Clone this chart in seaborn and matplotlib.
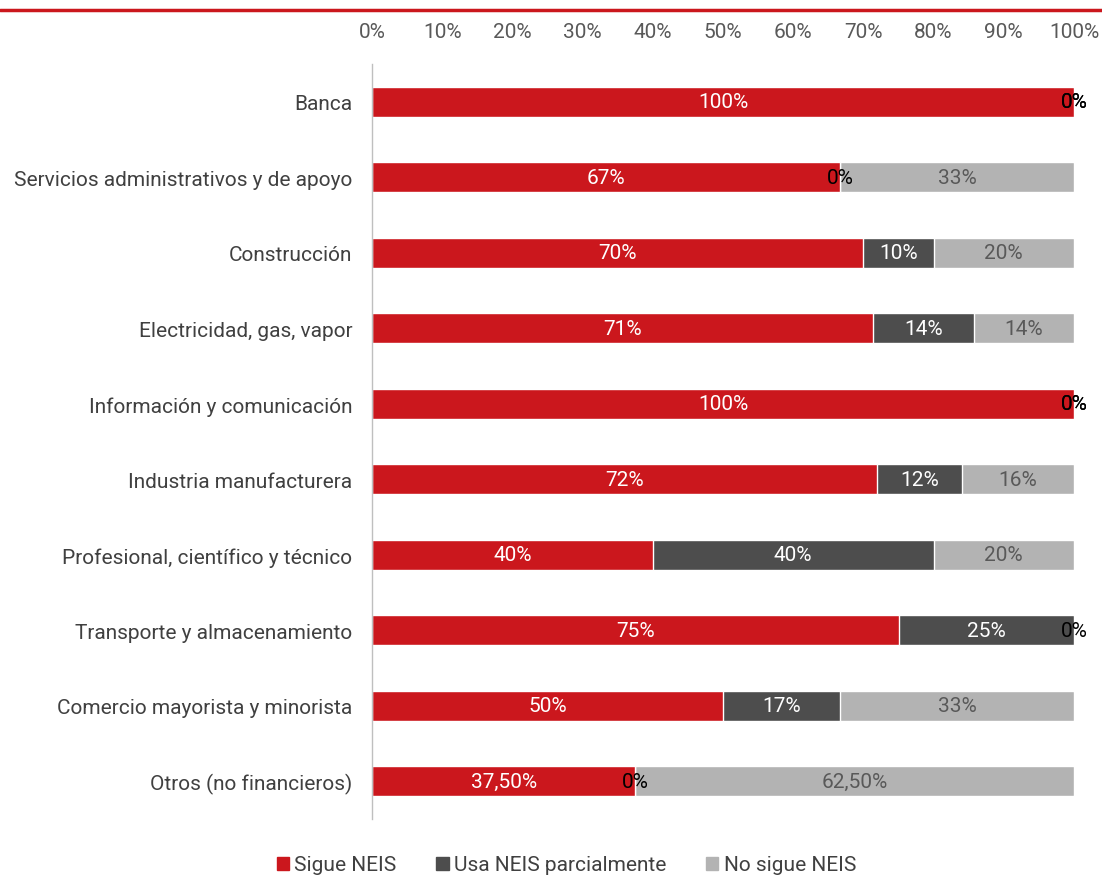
import numpy as np
import pandas as pd
import seaborn as sns
from matplotlib import pyplot as plt
from matplotlib.lines import Line2D
from matplotlib.patches import Patch

sns.set_style("white")
plt.rcParams['font.family'] = ['Roboto', 'DejaVu Sans']

# datos
sectores = ['Banca', 'Servicios administrativos y de apoyo', 'Construcción',
            'Electricidad, gas, vapor', 'Información y comunicación',
            'Industria manufacturera', 'Profesional, científico y técnico',
            'Transporte y almacenamiento', 'Comercio mayorista y minorista',
            'Otros (no financieros)']
sigue = [100, 66.7, 70, 71.4, 100, 72, 40, 75, 50, 37.5]
parcial = [0, 0, 10, 14.3, 0, 12, 40, 25, 16.7, 0]
no_sigue = [0, 33.3, 20, 14.3, 0, 16, 20, 0, 33.3, 62.5]
lbl_sigue = ['100%', '67%', '70%', '71%', '100%', '72%', '40%', '75%', '50%', '37,50%']
lbl_parcial = ['0%', '0%', '10%', '14%', '0%', '12%', '40%', '25%', '17%', '0%']
lbl_no = ['0%', '33%', '20%', '14%', '0%', '16%', '20%', '0%', '33%', '62,50%']

RED = '#CB171D'
DARK = '#4D4D4D'
LIGHT = '#B3B3B3'

df = pd.DataFrame({'sector': sectores, 'sigue': sigue, 'parcial': parcial, 'no': no_sigue})
df['c2'] = df['sigue'] + df['parcial']
df['c3'] = df['c2'] + df['no']

fig = plt.figure(figsize=(11.02, 8.79), dpi=100)
ax = fig.add_axes([0.3376, 0.0671, 0.9746 - 0.3376, 0.926 - 0.0671])

sns.barplot(data=df, x='c3', y='sector', order=sectores, color=LIGHT, width=0.4,
            orient='h', ax=ax, saturation=1)
sns.barplot(data=df, x='c2', y='sector', order=sectores, color=DARK, width=0.4,
            orient='h', ax=ax, saturation=1)
sns.barplot(data=df, x='sigue', y='sector', order=sectores, color=RED, width=0.4,
            orient='h', ax=ax, saturation=1)

fs = 15
for i, row in df.iterrows():
    segs = [(row['sigue'] / 2, row['sigue'], lbl_sigue[i], 'white'),
            (row['sigue'] + row['parcial'] / 2, row['parcial'], lbl_parcial[i], 'white'),
            (row['c2'] + row['no'] / 2, row['no'], lbl_no[i], '#595959')]
    for xc, v, t, c in segs:
        if v == 0:
            c = 'black'
        ax.text(xc, i, t, ha='center', va='center', color=c, fontsize=fs)

ax.set_xlim(0, 100)
ax.set_ylim(9.5, -0.5)
ax.set_xticks(np.arange(0, 101, 10))
ax.set_xticklabels([f'{v}%' for v in range(0, 101, 10)])
ax.xaxis.tick_top()
ax.tick_params(axis='x', length=0, pad=16.5, labelsize=fs, colors='#595959')
ax.tick_params(axis='y', length=0, pad=14, labelsize=fs, colors='#404040')
ax.set_xlabel('')
ax.set_ylabel('')
for s in ['top', 'right', 'bottom']:
    ax.spines[s].set_visible(False)
ax.spines['left'].set_color('#BFBFBF')
ax.spines['left'].set_linewidth(1)

fig.add_artist(Line2D([0, 1], [0.988, 0.988], color=RED, lw=2.5, transform=fig.transFigure))

handles = [Patch(color=RED, label='Sigue NEIS'),
           Patch(color=DARK, label='Usa NEIS parcialmente'),
           Patch(color=LIGHT, label='No sigue NEIS')]
leg = fig.legend(handles=handles, loc='center', bbox_to_anchor=(0.514, 0.0148), ncol=3,
                 frameon=False, handlelength=0.6, handleheight=0.6, handletextpad=0.25,
                 columnspacing=1.9, fontsize=fs)
for t in leg.get_texts():
    t.set_color('#404040')

plt.savefig('out.png', dpi=100)
